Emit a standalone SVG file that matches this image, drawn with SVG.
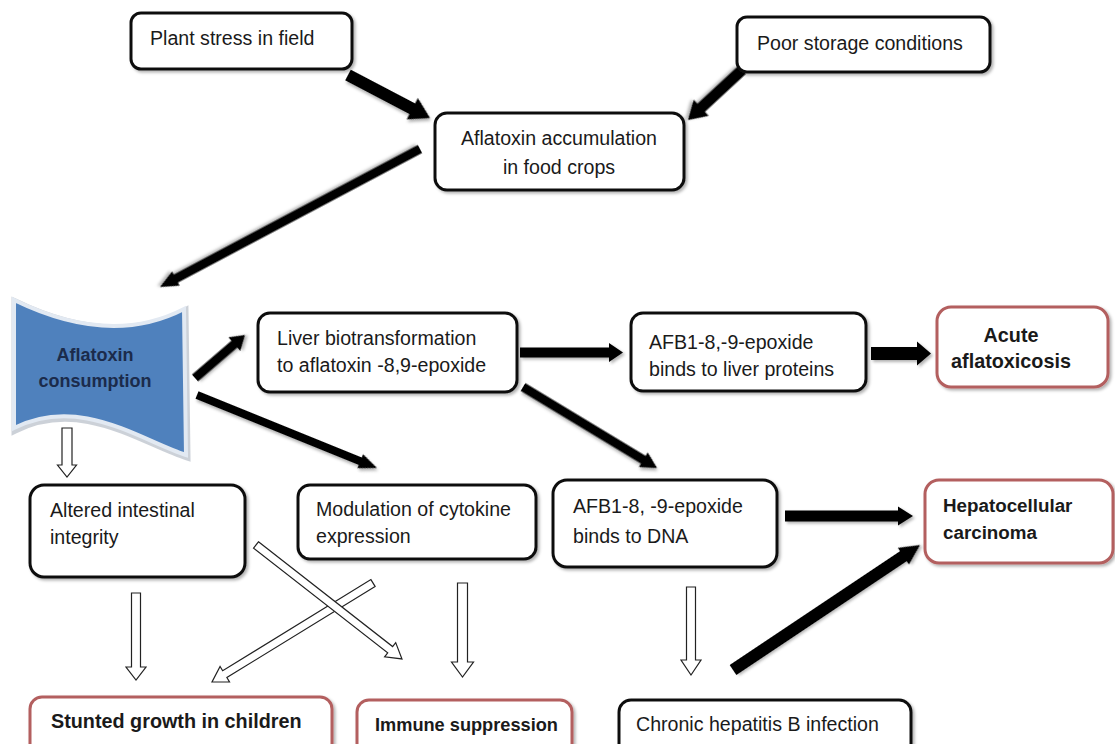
<svg xmlns="http://www.w3.org/2000/svg" width="1115" height="744" viewBox="0 0 1115 744">
<defs>
<filter id="sh" x="-10%" y="-10%" width="130%" height="130%">
<feDropShadow dx="2" dy="2" stdDeviation="1.5" flood-color="#000" flood-opacity="0.3"/>
</filter>
</defs>
<style>
.box{fill:#fff;stroke:#111;stroke-width:3;filter:url(#sh)}
.rbox{fill:#fff;stroke:#b35f5e;stroke-width:3;filter:url(#sh)}
.t{font-family:"Liberation Sans",Arial,sans-serif;font-size:19.6px;fill:#1a1a1a}
.b{font-family:"Liberation Sans",Arial,sans-serif;font-size:19.8px;font-weight:bold;fill:#1a1a1a}
.arr{fill:#000;stroke:none;filter:url(#sh)}
.harr{fill:#fff;stroke:#222;stroke-width:1.2}
</style>
<rect width="1115" height="744" fill="#fff"/>

<g id="connectors">
<path class="arr" transform="translate(348,75) rotate(27.68)" d="M0,-6 L72.6,-6 L72.6,-12 L92.6,0 L72.6,12 L72.6,6 L0,6Z"/>
<path class="arr" transform="translate(742,70) rotate(137.2)" d="M0,-5.5 L55.6,-5.5 L55.6,-11 L73.6,0 L55.6,11 L55.6,5.5 L0,5.5Z"/>
<path class="arr" transform="translate(420,149) rotate(152.04)" d="M0,-4.5 L276.4,-4.5 L276.4,-8 L294.4,0 L276.4,8 L276.4,4.5 L0,4.5Z"/>
<path class="arr" transform="translate(195,378) rotate(-40.7)" d="M0,-4.5 L51.9,-4.5 L51.9,-9 L65.9,0 L51.9,9 L51.9,4.5 L0,4.5Z"/>
<path class="arr" transform="translate(197,395) rotate(22.07)" d="M0,-4 L176.2,-4 L176.2,-7.5 L194.2,0 L176.2,7.5 L176.2,4 L0,4Z"/>
<path class="arr" transform="translate(520,352.5)" d="M0,-5 L89,-5 L89,-9.5 L103,0 L89,9.5 L89,5 L0,5Z"/>
<path class="arr" transform="translate(871,353.5)" d="M0,-6.5 L46,-6.5 L46,-12 L60,0 L46,12 L46,6.5 L0,6.5Z"/>
<path class="arr" transform="translate(523,387) rotate(31.15)" d="M0,-4.5 L140.6,-4.5 L140.6,-8.5 L156.6,0 L140.6,8.5 L140.6,4.5 L0,4.5Z"/>
<path class="arr" transform="translate(785,516)" d="M0,-5.5 L113,-5.5 L113,-9.5 L128,0 L113,9.5 L113,5.5 L0,5.5Z"/>
<path class="arr" transform="translate(733,670) rotate(-33.75)" d="M0,-6 L204.9,-6 L204.9,-10 L224.9,0 L204.9,10 L204.9,6 L0,6Z"/>

<path class="harr" d="M62,428 L72,428 L72,465 L76.5,465 L67,477 L57.5,465 L62,465Z"/>
<path class="harr" d="M131.5,593 L140.5,593 L140.5,667 L146,667 L136,680 L126,667 L131.5,667Z"/>
<path class="harr" d="M457.5,583 L467.5,583 L467.5,662 L473.5,662 L462.5,677 L451.5,662 L457.5,662Z"/>
<path class="harr" d="M686.5,587 L695.5,587 L695.5,660 L701,660 L691,675 L681,660 L686.5,660Z"/>
<path class="harr" transform="translate(373,583) rotate(148.41)" d="M0,-4 L174,-4 L174,-9 L189,0 L174,9 L174,4 L0,4Z"/>
<path class="harr" transform="translate(256,545) rotate(37.98)" d="M0,-4 L170.2,-4 L170.2,-9 L185.2,0 L170.2,9 L170.2,4 L0,4Z"/>
</g>

<g id="plant-stress">
<rect class="box" x="131" y="13" width="221" height="56" rx="10"/>
<text class="t" x="150" y="45">Plant stress in field</text>
</g>
<g id="poor-storage">
<rect class="box" x="737" y="17" width="253" height="55" rx="10"/>
<text class="t" x="757" y="50">Poor storage conditions</text>
</g>
<g id="accumulation">
<rect class="box" x="435" y="113" width="249" height="77" rx="12"/>
<text class="t" x="559" y="145" text-anchor="middle">Aflatoxin accumulation</text>
<text class="t" x="559" y="174" text-anchor="middle">in food crops</text>
</g>
<g id="consumption">
<path d="M14,300 C55,320 120,342 184,309 L186,455 C140,440 80,395 14,428 Z" fill="none" stroke="#8e9aa8" stroke-width="7" stroke-opacity="0.45" transform="translate(1,2)"/>
<path d="M14,300 C55,320 120,342 184,309 L186,455 C140,440 80,395 14,428 Z" fill="#4f81bd" stroke="#e2e9f2" stroke-width="4"/>
<text class="b" x="95" y="361" text-anchor="middle" style="font-size:18px;fill:#1b2b4b">Aflatoxin</text>
<text class="b" x="95" y="387" text-anchor="middle" style="font-size:18px;fill:#1b2b4b">consumption</text>
</g>
<g id="liver">
<rect class="box" x="258" y="313" width="259" height="79" rx="12"/>
<text class="t" x="277" y="345">Liver biotransformation</text>
<text class="t" x="277" y="372">to aflatoxin -8,9-epoxide</text>
</g>
<g id="afb1-proteins">
<rect class="box" x="631" y="313" width="235" height="78" rx="12"/>
<text class="t" x="649" y="349">AFB1-8,-9-epoxide</text>
<text class="t" x="649" y="376">binds to liver proteins</text>
</g>
<g id="acute">
<rect class="rbox" x="937" y="307" width="171" height="80" rx="14"/>
<text class="b" x="1011" y="342" text-anchor="middle">Acute</text>
<text class="b" x="1011" y="368" text-anchor="middle">aflatoxicosis</text>
</g>
<g id="altered">
<rect class="box" x="30" y="485" width="215" height="92" rx="14"/>
<text class="t" x="50" y="517">Altered intestinal</text>
<text class="t" x="50" y="544">integrity</text>
</g>
<g id="modulation">
<rect class="box" x="298" y="485" width="238" height="74" rx="12"/>
<text class="t" x="316" y="516">Modulation of cytokine</text>
<text class="t" x="316" y="543">expression</text>
</g>
<g id="afb1-dna">
<rect class="box" x="553" y="480" width="224" height="87" rx="14"/>
<text class="t" x="573" y="513">AFB1-8, -9-epoxide</text>
<text class="t" x="573" y="543">binds to DNA</text>
</g>
<g id="hcc">
<rect class="rbox" x="925" y="480" width="188" height="83" rx="14"/>
<text class="b" x="943" y="512" style="font-size:18.8px">Hepatocellular</text>
<text class="b" x="943" y="539" style="font-size:18.8px">carcinoma</text>
</g>
<g id="stunted">
<rect class="rbox" x="30" y="697" width="302" height="60" rx="12"/>
<text class="b" x="51" y="728">Stunted growth in children</text>
</g>
<g id="immune">
<rect class="rbox" x="357" y="700" width="215" height="60" rx="12"/>
<text class="b" x="375" y="731" style="font-size:18.2px">Immune suppression</text>
</g>
<g id="chronic-hbv">
<rect class="box" x="619" y="700" width="292" height="60" rx="12"/>
<text class="t" x="636" y="731">Chronic hepatitis B infection</text>
</g>
</svg>
